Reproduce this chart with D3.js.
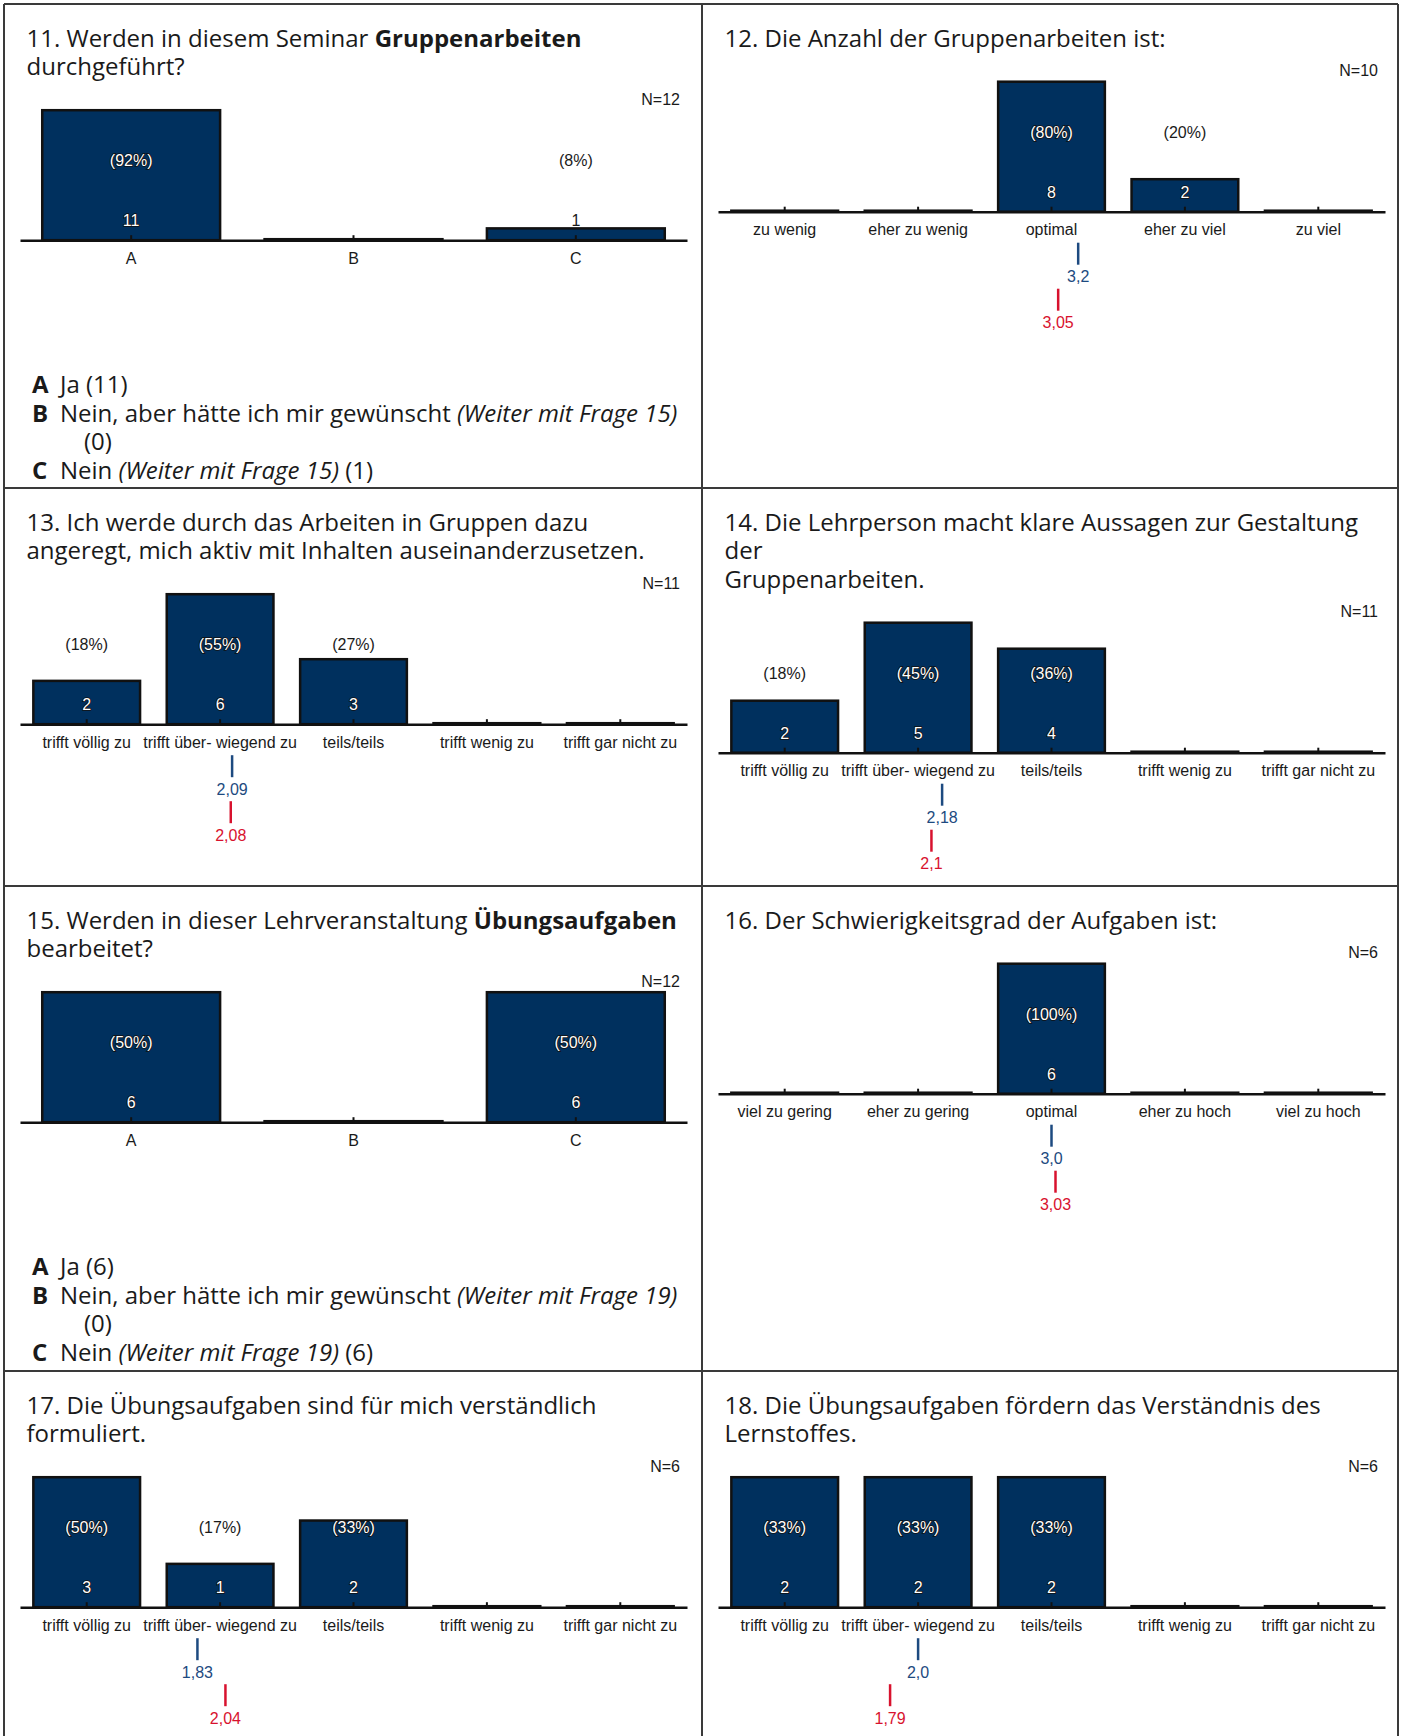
<!DOCTYPE html>
<html>
<head>
<meta charset="utf-8">
<script src="https://cdn.jsdelivr.net/npm/d3@7"></script>
<style>
    body { margin: 0; background: #fff; }
    svg { display: block; }
    .title, .legend { font-family: "Open Sans", sans-serif; font-size: 24px; fill: #1a1a1a; }
    .lab { font-family: "Liberation Sans", Arial, sans-serif; font-size: 16px; }
</style>
</head>
<body>
<script>
// categories
let catsAbc = ["A", "B", "C"];
let catsAnzahl = ["zu wenig", "eher zu wenig", "optimal", "eher zu viel", "zu viel"];
let catsZustimmung = ["trifft völlig zu", "trifft über- wiegend zu", "teils/teils", "trifft wenig zu", "trifft gar nicht zu"];
let catsSchwierigkeit = ["viel zu gering", "eher zu gering", "optimal", "eher zu hoch", "viel zu hoch"];

// counts per answer
let counts11 = [11, 0, 1];
let counts12 = [0, 0, 8, 2, 0];
let counts13 = [2, 6, 3, 0, 0];
let counts14 = [2, 5, 4, 0, 0];
let counts15 = [6, 0, 6];
let counts16 = [0, 0, 6, 0, 0];
let counts17 = [3, 1, 2, 0, 0];
let counts18 = [2, 2, 2, 0, 0];

// percent labels
let pct11 = ["92%", "", "8%"];
let pct12 = ["", "", "80%", "20%", ""];
let pct13 = ["18%", "55%", "27%", "", ""];
let pct14 = ["18%", "45%", "36%", "", ""];
let pct15 = ["50%", "", "50%"];
let pct16 = ["", "", "100%", "", ""];
let pct17 = ["50%", "17%", "33%", "", ""];
let pct18 = ["33%", "33%", "33%", "", ""];

// N per question
let nValues = [12, 10, 11, 11, 12, 6, 6, 6];

// means: own course (blue) and comparison (red)
let meanOwn = {12: "3,2", 13: "2,09", 14: "2,18", 16: "3,0", 17: "1,83", 18: "2,0"};
let meanRef = {12: "3,05", 13: "2,08", 14: "2,1", 16: "3,03", 17: "2,04", 18: "1,79"};

// titles: lines of [text, style]
let title11 = [[["11. Werden in diesem Seminar ", ""], ["Gruppenarbeiten", "b"]], [["durchgeführt?", ""]]];
let title12 = [[["12. Die Anzahl der Gruppenarbeiten ist:", ""]]];
let title13 = [[["13. Ich werde durch das Arbeiten in Gruppen dazu", ""]], [["angeregt, mich aktiv mit Inhalten auseinanderzusetzen.", ""]]];
let title14 = [[["14. Die Lehrperson macht klare Aussagen zur Gestaltung", ""]], [["der", ""]], [["Gruppenarbeiten.", ""]]];
let title15 = [[["15. Werden in dieser Lehrveranstaltung ", ""], ["Übungsaufgaben", "b"]], [["bearbeitet?", ""]]];
let title16 = [[["16. Der Schwierigkeitsgrad der Aufgaben ist:", ""]]];
let title17 = [[["17. Die Übungsaufgaben sind für mich verständlich", ""]], [["formuliert.", ""]]];
let title18 = [[["18. Die Übungsaufgaben fördern das Verständnis des", ""]], [["Lernstoffes.", ""]]];

let legend11 = [
    ["A", [["Ja (11)", ""]]],
    ["B", [["Nein, aber hätte ich mir gewünscht ", ""], ["(Weiter mit Frage 15)", "i"]]],
    ["", [["(0)", ""]]],
    ["C", [["Nein ", ""], ["(Weiter mit Frage 15)", "i"], [" (1)", ""]]]
];
let legend15 = [
    ["A", [["Ja (6)", ""]]],
    ["B", [["Nein, aber hätte ich mir gewünscht ", ""], ["(Weiter mit Frage 19)", "i"]]],
    ["", [["(0)", ""]]],
    ["C", [["Nein ", ""], ["(Weiter mit Frage 19)", "i"], [" (6)", ""]]]
];

let colX = [4, 702],
    rowY = [4, 488, 886, 1371],
    barColor = "#00305e",
    ownColor = "#1d4a80",
    refColor = "#d8122e",
    textColor = "#1a1a1a";

let panels = [
    {q: 11, col: 0, row: 0, title: title11, cats: catsAbc, counts: counts11, pct: pct11, legend: legend11},
    {q: 12, col: 1, row: 0, title: title12, cats: catsAnzahl, counts: counts12, pct: pct12},
    {q: 13, col: 0, row: 1, title: title13, cats: catsZustimmung, counts: counts13, pct: pct13},
    {q: 14, col: 1, row: 1, title: title14, cats: catsZustimmung, counts: counts14, pct: pct14},
    {q: 15, col: 0, row: 2, title: title15, cats: catsAbc, counts: counts15, pct: pct15, legend: legend15},
    {q: 16, col: 1, row: 2, title: title16, cats: catsSchwierigkeit, counts: counts16, pct: pct16},
    {q: 17, col: 0, row: 3, title: title17, cats: catsZustimmung, counts: counts17, pct: pct17},
    {q: 18, col: 1, row: 3, title: title18, cats: catsZustimmung, counts: counts18, pct: pct18}
];

let svg = d3.select("body").append("svg")
    .attr("width", 1402)
    .attr("height", 1736);

// panel grid
let grid = svg.append("g").attr("stroke", "#3a3a3a").attr("stroke-width", 2);
[4, 702, 1398].forEach(xv => grid.append("line").attr("x1", xv).attr("x2", xv).attr("y1", 4).attr("y2", 1736));
rowY.forEach(yv => grid.append("line").attr("x1", 4).attr("x2", 1398).attr("y1", yv).attr("y2", yv));

panels.forEach((p, i) => drawPanel(p, nValues[i]));

function addRuns(textSel, runs, xStart, yLine) {
    runs.forEach((r, k) => {
        let ts = textSel.append("tspan")
            .text(r[0])
            .attr("font-weight", r[1] === "b" ? "bold" : null)
            .attr("font-style", r[1] === "i" ? "italic" : null);
        if (k === 0) ts.attr("x", xStart).attr("y", yLine);
    });
}

function drawPanel(p, n) {
    let g = svg.append("g").attr("transform", "translate(" + colX[p.col] + "," + rowY[p.row] + ")");

    // title as one text block
    let title = g.append("text").attr("class", "title");
    p.title.forEach((line, i) => addRuns(title, line, 22.5, 42.7 + i * 28.5));

    let base = 42.7 + (p.title.length - 1) * 28.5 + 165;

    let x = d3.scaleBand().domain(p.cats).range([16, 683]).paddingInner(0.2).paddingOuter(0.1);
    let y = d3.scaleLinear().domain([0, d3.max(p.counts)]).range([base, base - 130]);
    let bw = x.bandwidth();

    g.selectAll("rect.bar").data(p.cats).enter().append("rect")
        .attr("class", "bar")
        .attr("x", d => x(d))
        .attr("width", bw)
        .attr("y", (d, i) => Math.min(y(p.counts[i]), base - 1))
        .attr("height", (d, i) => Math.max(base - y(p.counts[i]), 1))
        .attr("fill", barColor)
        .attr("stroke", "#111")
        .attr("stroke-width", 2.5);

    let axis = g.append("g")
        .attr("transform", "translate(0," + base + ")")
        .call(d3.axisBottom(x).tickSizeInner(-5).tickSizeOuter(0).tickPadding(12));
    axis.select(".domain").attr("stroke", "#111").attr("stroke-width", 2.5);
    axis.selectAll(".tick line").attr("stroke", "#111").attr("stroke-width", 2);
    axis.selectAll(".tick text")
        .attr("class", "lab")
        .attr("font-family", null)
        .attr("font-size", null)
        .attr("fill", textColor);

    // value labels
    let labelAt = (yy, textFn) => {
        g.selectAll(null).data(p.cats).enter().append("text")
            .filter((d, i) => p.counts[i] > 0)
            .attr("class", "lab")
            .attr("x", d => x(d) + bw / 2)
            .attr("y", yy)
            .attr("dy", "0.35em")
            .attr("text-anchor", "middle")
            .text(d => textFn(p.cats.indexOf(d)))
            .each(function(d) {
                let inside = y(p.counts[p.cats.indexOf(d)]) < yy + 4;
                d3.select(this)
                    .attr("fill", inside ? "#fff" : textColor)
                    .attr("stroke", inside ? "#111" : null)
                    .attr("stroke-width", inside ? 1.6 : null)
                    .attr("paint-order", "stroke");
            });
    };
    labelAt(base - 79.5, i => "(" + p.pct[i] + ")");
    labelAt(base - 19.8, i => p.counts[i]);

    g.append("text").attr("class", "lab")
        .attr("x", 676).attr("y", base - 141).attr("dy", "0.35em")
        .attr("text-anchor", "end").attr("fill", textColor)
        .text("N=" + n);

    if (meanOwn[p.q]) {
        let xm = d3.scaleLinear().domain([1, p.cats.length])
            .range([x(p.cats[0]) + bw / 2, x(p.cats[p.cats.length - 1]) + bw / 2]);
        [[meanOwn[p.q], ownColor, 31], [meanRef[p.q], refColor, 77]].forEach(m => {
            let xv = xm(+m[0].replace(",", "."));
            g.append("line")
                .attr("x1", xv).attr("x2", xv)
                .attr("y1", base + m[2]).attr("y2", base + m[2] + 22)
                .attr("stroke", m[1]).attr("stroke-width", 2.5);
            g.append("text").attr("class", "lab")
                .attr("x", xv).attr("y", base + m[2] + 34).attr("dy", "0.35em")
                .attr("text-anchor", "middle").attr("fill", m[1])
                .text(m[0]);
        });
    }

    if (p.legend) {
        // legend as one text block, key letters bold
        let leg = g.append("text").attr("class", "legend");
        p.legend.forEach((row, i) => {
            let yy = base + 153 + i * 28.5;
            if (row[0]) {
                leg.append("tspan").attr("x", 28).attr("y", yy)
                    .attr("font-weight", "bold").text(row[0]);
            }
            addRuns(leg, row[1], row[0] ? 56 : 80, yy);
        });
    }
}
</script>
</body>
</html>
